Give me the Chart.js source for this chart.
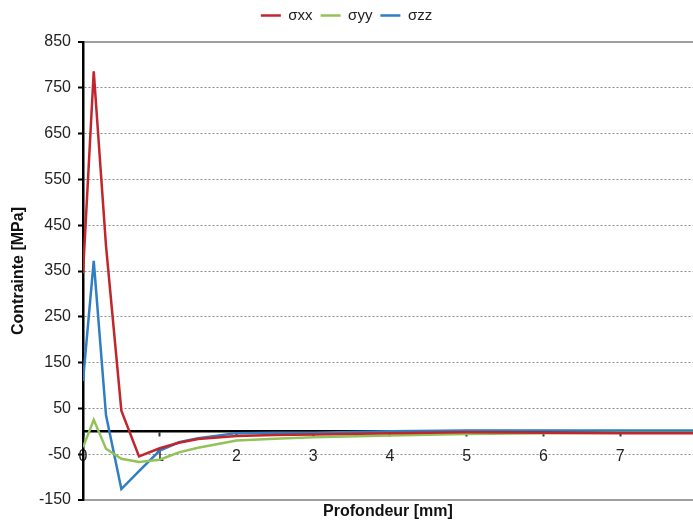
<!DOCTYPE html>
<html>
<head>
<meta charset="utf-8">
<script src="https://cdn.jsdelivr.net/npm/chart.js"></script>
<style>
  html, body { margin: 0; padding: 0; background: #fff; }
  #wrap { width: 693px; height: 523px; }
</style>
</head>
<body>
<div id="wrap"><canvas id="chart"></canvas></div>
<script>
// profondeur (mm) and stresses (MPa)
const depth = [0, 0.14, 0.3, 0.5, 0.73, 1.0, 1.25, 1.5, 2, 2.5, 3, 4, 5, 6, 7, 8];
const sxx = [345, 786, 405, 45, -55, -37, -25, -17, -10, -8, -7, -4, -2, -3, -4, -4];
const syy = [-35, 25, -38, -60, -67, -62, -46, -36, -20, -16, -13, -9, -6, -4, -3, -3];
const szz = [110, 372, 35, -126, -87, -42, -24, -15, -4, -3, -3, 0, 2, 2, 2, 2];
const seriesNames = ['σxx', 'σyy', 'σzz'];
const xTicks = [0, 1, 2, 3, 4, 5, 6, 7];

const FONT = '"Liberation Sans", Arial, Helvetica, sans-serif';

const toPts = vals => vals.map((v, i) => ({ x: depth[i], y: v }));

const mkSet = (label, vals, color) => ({
  label: label,
  data: toPts(vals),
  borderColor: color,
  backgroundColor: color,
  borderWidth: 2.5,
  pointRadius: 0,
  showLine: true,
  tension: 0,
  xAxisID: 'x',
  yAxisID: 'y',
});

// solid frame lines at top/bottom, dashed in between
const isEdge = ctx => ctx.tick && (ctx.tick.value === 850 || ctx.tick.value === -150);

new Chart(document.getElementById('chart'), {
  type: 'scatter',
  data: {
    datasets: [
      mkSet(seriesNames[0], sxx, '#c0262c'),
      mkSet(seriesNames[1], syy, '#94c25a'),
      mkSet(seriesNames[2], szz, '#2f7ec2'),
    ],
  },
  options: {
    responsive: true,
    maintainAspectRatio: false,
    animation: false,
    layout: { padding: 0 },
    plugins: {
      tooltip: { enabled: false },
      legend: {
        position: 'top',
        labels: {
          usePointStyle: true,
          pointStyle: 'line',
          pointStyleWidth: 20,
          boxHeight: 2,
          padding: 8,
          color: '#222',
          font: { family: FONT, size: 15 },
        },
      },
      // blank spacer between legend and plot
      title: {
        display: true,
        text: ' ',
        weight: 500,
        padding: { top: 0, bottom: 8 },
        font: { size: 1, lineHeight: 1 },
      },
    },
    scales: {
      x: {
        type: 'linear',
        position: { y: 0 },
        min: 0,
        max: 7.95,
        afterBuildTicks: s => { s.ticks = xTicks.map(v => ({ value: v })); },
        ticks: {
          color: '#222',
          padding: 12,
          font: { family: FONT, size: 16 },
        },
        grid: {
          drawOnChartArea: false,
          drawTicks: true,
          tickLength: 4,
          tickColor: '#333',
          tickWidth: 2,
        },
        border: { display: true, color: '#000', width: 2.5 },
      },
      // only here to hold the bottom title
      x2: {
        type: 'linear',
        position: 'bottom',
        afterFit: s => { s.height = 23; },
        grid: { display: false },
        border: { display: false },
        ticks: { display: false },
        title: {
          display: true,
          text: 'Profondeur [mm]',
          color: '#111',
          padding: { top: 2, bottom: 2 },
          font: { family: FONT, size: 16, weight: 'bold' },
        },
      },
      y: {
        type: 'linear',
        position: 'left',
        min: -150,
        max: 850,
        afterFit: s => { s.width = 83; },
        ticks: {
          stepSize: 100,
          color: '#222',
          padding: 7,
          font: { family: FONT, size: 16 },
        },
        grid: {
          color: ctx => isEdge(ctx) ? '#a0a0a0' : '#8a8a8a',
          lineWidth: ctx => isEdge(ctx) ? 2 : 1,
          drawTicks: true,
          tickLength: 5,
          tickColor: '#000',
          tickWidth: 2,
        },
        border: {
          display: true,
          color: '#000',
          width: 2.5,
          dash: ctx => isEdge(ctx) ? [] : [2, 2],
        },
        title: {
          display: true,
          text: 'Contrainte [MPa]',
          color: '#111',
          padding: { top: 9, bottom: 0 },
          font: { family: FONT, size: 16, weight: 'bold' },
        },
      },
    },
  },
});
</script>
</body>
</html>
